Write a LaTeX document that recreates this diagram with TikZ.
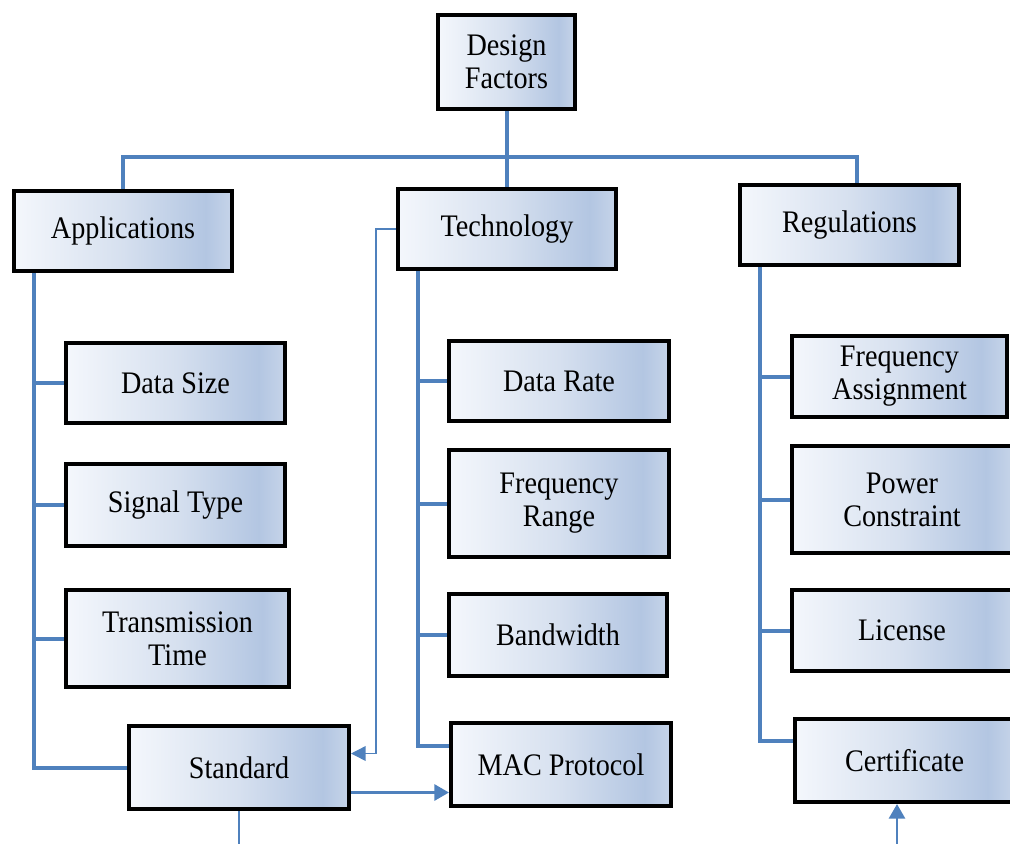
\documentclass[tikz,border=0pt]{standalone}
\usepackage{fontspec}
\setmainfont{Liberation Serif}
\newfontfamily\boxfont[FakeStretch=0.9]{Liberation Serif}
\usetikzlibrary{arrows.meta,calc}
\definecolor{shA}{HTML}{F4F7FC}
\definecolor{shB}{HTML}{D6E0EF}
\definecolor{shC}{HTML}{B3C6E2}
\definecolor{shD}{HTML}{C6D4E9}
\definecolor{conn}{HTML}{4F81BD}
\pgfdeclarehorizontalshading{boxshade}{100bp}{color(0bp)=(shA); color(25bp)=(shA); color(50bp)=(shB); color(69bp)=(shC); color(75bp)=(shD); color(100bp)=(shD)}
\tikzset{
  fbox/.style 2 args={draw=black, line width=3pt, shading=boxshade, rectangle,
    minimum width=#1*0.75pt, minimum height=#2*0.75pt, inner sep=0pt,
    align=center, font=\boxfont\fontsize{23.5}{24.75}\selectfont},
  bar/.style={draw=conn, line width=3pt},
  thin/.style={draw=conn, line width=1.1pt},
  arr/.style={draw=conn, line width=2.2pt, -{Triangle[length=11pt,width=12pt]}},
  tarr/.style={draw=conn, line width=1.1pt, -{Triangle[length=11pt,width=11pt]}}
}
\begin{document}
\begin{tikzpicture}[x=0.75pt,y=-0.75pt]
\useasboundingbox (0,0) rectangle (1010,843);
% boxes
\node[fbox={137}{94}]  (df)    at (506.5,62)   {Design\\Factors};
\node[fbox={218}{80}]  (apps)  at (123,231)    {Applications};
\node[fbox={218}{80}]  (tech)  at (507,229)    {Technology};
\node[fbox={219}{80}]  (regs)  at (849.5,225)  {Regulations};
\node[fbox={219}{80}]  (dsize) at (175.5,383)  {Data Size};
\node[fbox={219}{82}]  (sig)   at (175.5,505)  {Signal Type};
\node[fbox={223}{97}]  (tt)    at (177.5,638.5){Transmission\\Time};
\node[fbox={220}{83}]  (std)   at (239,767.5)  {Standard};
\node[fbox={220}{80}]  (drate) at (559,381)    {Data Rate};
\node[fbox={220}{107}] (frange) at (559,503.5) {Frequency\\Range};
\node[fbox={218}{82}]  (bw)    at (558,635)    {Bandwidth};
\node[fbox={220}{83}]  (mac)   at (561,764.5)  {MAC Protocol};
\node[fbox={215}{81}]  (fa)    at (899.5,376.5){Frequency\\Assignment};
\node[fbox={221}{107}] (pc)    at (902,499.5)  {Power\\Constraint};
\node[fbox={221}{81}]  (lic)   at (902,630.5)  {License};
\node[fbox={219}{83}]  (cert)  at (904.5,760.5){Certificate};
% coordinates
\coordinate (busL) at (123,157);
\coordinate (busR) at (857,157);
\coordinate (trA) at (34,0);
\coordinate (trT) at (418,0);
\coordinate (trR) at (760,0);
\coordinate (stdout) at (240,845);
\coordinate (certin) at (897,845);
% top
\draw[bar] (df.south) -- (df.south |- tech.north);
\draw[bar] (apps.north) -- (busL) -- (busR) -- (busR |- regs.north);
% applications
\draw[bar] (trA |- apps.south) |- (std.west);
\draw[bar] (trA |- dsize.west) -- (dsize.west);
\draw[bar] (trA |- sig.west) -- (sig.west);
\draw[bar] (trA |- tt.west) -- (tt.west);
% technology
\coordinate (macin) at ($(mac.west)+(0,-19)$);
\draw[bar] (trT |- tech.south) |- (macin);
\draw[bar] (trT |- drate.west) -- (drate.west);
\draw[bar] (trT |- frange.west) -- (frange.west);
\draw[bar] (trT |- bw.west) -- (bw.west);
% regulations
\coordinate (certw) at ($(cert.west)+(0,-19.5)$);
\draw[bar] (trR |- regs.south) |- (certw);
\draw[bar] (trR |- fa.west) -- (fa.west);
\draw[bar] (trR |- pc.west) -- (pc.west);
\draw[bar] (trR |- lic.west) -- (lic.west);
% cross links
\coordinate (stdin) at ($(std.east)+(0,-14)$);
\coordinate (bend) at ($(tech.west)+(-20,0)$);
\draw[tarr] (tech.west) -- (bend) |- (stdin);
\coordinate (stdo) at ($(std.east)+(0,25)$);
\draw[arr] (stdo) -- (stdo -| mac.west);
\draw[thin] (std.south) -- (std.south |- stdout);
\draw[arr] (certin) -- (certin |- cert.south);
\end{tikzpicture}
\end{document}
